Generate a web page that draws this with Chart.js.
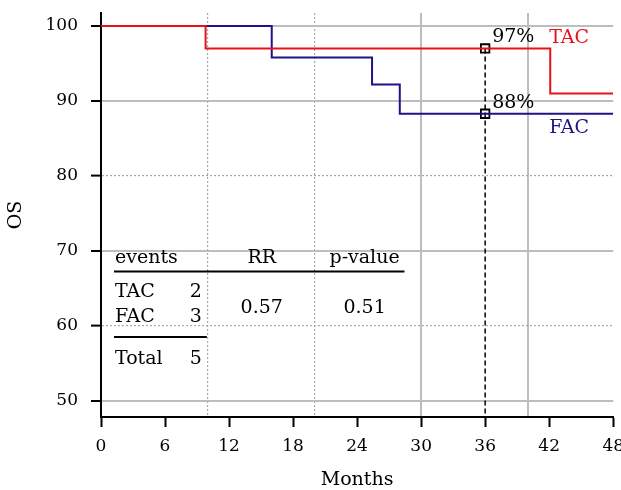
<!DOCTYPE html>
<html>
<head>
<meta charset="utf-8">
<title>OS TAC vs FAC</title>
<script src="https://cdn.jsdelivr.net/npm/chart.js@4.4.0/dist/chart.umd.min.js"></script>
<style>
    html, body { margin: 0; padding: 0; background: #fff; }
    #wrap { width: 621px; height: 490px; }
</style>
</head>
<body>
<div id="wrap"><canvas id="chart" width="621" height="490"></canvas></div>
<script>
// Courbes de survie (paliers KM)
const tacMonths = [0, 9.8, 42.1, 48];
const tacOS = [100, 97, 91, 91];
const facMonths = [0, 16, 25.4, 28, 48];
const facOS = [100, 95.8, 92.2, 88.3, 88.3];

// Point de repère à 36 mois
const landmarkMonth = 36;
const landmarkOS = [97, 88.3];
const landmarkLabels = ['97%', '88%'];

// Axes et grille
const xTicks = [0, 6, 12, 18, 24, 30, 36, 42, 48];
const yTicks = [50, 60, 70, 80, 90, 100];
const gridMonths = [10, 20, 30, 40];
const dottedMonths = [10, 20];
const dottedOS = [60, 80];
const yMin = 47.87;
const yMax = 101.73;

// Tableau des événements
const groups = ['TAC', 'FAC'];
const groupEvents = [2, 3];
const totalEvents = 5;
const rrValue = '0.57';
const pValue = '0.51';

const RED = '#e8101a';
const NAVY = '#1e1488';
const FONT = '"DejaVu Serif", serif';

const toPoints = (xs, ys) => xs.map((m, i) => ({ x: m, y: ys[i] }));

// Texte : labels du repère, noms des séries, tableau
const annotations = {
    id: 'annotations',
    afterDatasetsDraw(chart) {
        const { ctx, scales: { x, y } } = chart;
        ctx.save();
        ctx.font = '19px ' + FONT;
        ctx.textBaseline = 'alphabetic';

        // 97% / 88%
        ctx.fillStyle = '#000';
        ctx.textAlign = 'left';
        landmarkOS.forEach((v, i) => {
            ctx.fillText(landmarkLabels[i], x.getPixelForValue(landmarkMonth) + 7, y.getPixelForValue(v) - 6);
        });

        // TAC / FAC
        ctx.fillStyle = RED;
        ctx.fillText('TAC', x.getPixelForValue(42), y.getPixelForValue(landmarkOS[0]) - 5);
        ctx.fillStyle = NAVY;
        ctx.fillText('FAC', x.getPixelForValue(42), y.getPixelForValue(landmarkOS[1]) + 19);

        // Tableau
        ctx.fillStyle = '#000';
        ctx.strokeStyle = '#000';
        ctx.lineWidth = 2;
        const colLeft = x.getPixelForValue(1.31);
        const colCount = x.getPixelForValue(9.45);
        const colRR = x.getPixelForValue(15.06);
        const colP = x.getPixelForValue(24.7);

        ctx.textAlign = 'left';
        ctx.fillText('events', colLeft, y.getPixelForValue(68.4));
        ctx.textAlign = 'center';
        ctx.fillText('RR', colRR, y.getPixelForValue(68.4));
        ctx.fillText('p-value', colP, y.getPixelForValue(68.4));

        ctx.beginPath();
        ctx.moveTo(x.getPixelForValue(1.22), y.getPixelForValue(67.27));
        ctx.lineTo(x.getPixelForValue(28.44), y.getPixelForValue(67.27));
        ctx.stroke();

        const rowOS = [63.87, 60.53];
        groups.forEach((g, i) => {
            ctx.textAlign = 'left';
            ctx.fillText(g, colLeft, y.getPixelForValue(rowOS[i]));
            ctx.textAlign = 'right';
            ctx.fillText(String(groupEvents[i]), colCount, y.getPixelForValue(rowOS[i]));
        });

        ctx.textAlign = 'center';
        ctx.fillText(rrValue, colRR, y.getPixelForValue(61.73));
        ctx.fillText(pValue, colP, y.getPixelForValue(61.73));

        ctx.beginPath();
        ctx.moveTo(x.getPixelForValue(1.22), y.getPixelForValue(58.53));
        ctx.lineTo(x.getPixelForValue(9.92), y.getPixelForValue(58.53));
        ctx.stroke();

        ctx.textAlign = 'left';
        ctx.fillText('Total', colLeft, y.getPixelForValue(54.93));
        ctx.textAlign = 'right';
        ctx.fillText(String(totalEvents), colCount, y.getPixelForValue(54.93));

        ctx.restore();
    }
};

new Chart(document.getElementById('chart'), {
    type: 'line',
    data: {
        datasets: [{
            label: 'TAC',
            data: toPoints(tacMonths, tacOS),
            stepped: true,
            borderColor: RED,
            borderWidth: 2,
            pointRadius: 0,
            fill: false
        }, {
            label: 'FAC',
            data: toPoints(facMonths, facOS),
            stepped: true,
            borderColor: NAVY,
            borderWidth: 2,
            pointRadius: 0,
            fill: false
        }, {
            label: 'repère',
            data: [{ x: landmarkMonth, y: landmarkOS[0] }, { x: landmarkMonth, y: yMin }],
            borderColor: '#000',
            borderWidth: 1.5,
            borderDash: [5, 3],
            pointRadius: 0,
            fill: false
        }, {
            label: 'points',
            data: landmarkOS.map(v => ({ x: landmarkMonth, y: v })),
            showLine: false,
            pointStyle: 'rect',
            pointRadius: 6,
            pointBorderColor: '#000',
            pointBorderWidth: 1.8,
            pointBackgroundColor: 'rgba(0,0,0,0)'
        }]
    },
    options: {
        responsive: false,
        devicePixelRatio: 1,
        animation: false,
        layout: { padding: { left: 5, top: 13, right: 7, bottom: 0 } },
        plugins: {
            legend: { display: false },
            tooltip: { enabled: false }
        },
        scales: {
            x: {
                type: 'linear',
                position: 'bottom',
                min: 0,
                max: 48,
                afterBuildTicks: s => { s.ticks = xTicks.map(v => ({ value: v })); },
                afterFit: s => { s.height = 73; s.paddingRight = 0; s.paddingLeft = 0; },
                grid: { drawOnChartArea: false, tickColor: '#000', tickWidth: 2, tickLength: 10 },
                border: { color: '#000', width: 2 },
                ticks: { color: '#000', padding: 9, maxRotation: 0, font: { family: FONT, size: 17 } },
                title: { display: true, text: 'Months', color: '#000', padding: { top: 0, bottom: 0 },
                         font: { family: FONT, size: 19, lineHeight: 1 } }
            },
            xg: {
                type: 'linear',
                position: 'top',
                min: 0,
                max: 48,
                afterBuildTicks: s => { s.ticks = gridMonths.map(v => ({ value: v })); },
                afterFit: s => { s.height = 0; s.paddingRight = 0; s.paddingLeft = 0; },
                ticks: { display: false },
                grid: {
                    drawTicks: false,
                    color: ctx => dottedMonths.includes(ctx.tick && ctx.tick.value) ? '#a8a8a8' : '#bdbdbd',
                    lineWidth: ctx => dottedMonths.includes(ctx.tick && ctx.tick.value) ? 1.2 : 2
                },
                border: {
                    display: false,
                    dash: ctx => (ctx.tick && dottedMonths.includes(ctx.tick.value)) ? [2, 2] : []
                }
            },
            y: {
                type: 'linear',
                min: yMin,
                max: yMax,
                afterBuildTicks: s => { s.ticks = yTicks.map(v => ({ value: v })); },
                afterFit: s => { s.width = 96; s.paddingTop = 0; s.paddingBottom = 0; },
                grid: {
                    tickColor: '#000',
                    tickWidth: 2,
                    tickLength: 10,
                    color: ctx => dottedOS.includes(ctx.tick && ctx.tick.value) ? '#a8a8a8' : '#bdbdbd',
                    lineWidth: ctx => dottedOS.includes(ctx.tick && ctx.tick.value) ? 1.2 : 2
                },
                border: {
                    color: '#000',
                    width: 2,
                    dash: ctx => (ctx.tick && dottedOS.includes(ctx.tick.value)) ? [2, 2] : []
                },
                ticks: { color: '#000', padding: 13, font: { family: FONT, size: 17 } },
                title: { display: true, text: 'OS', color: '#000', padding: { top: 0, bottom: 0 },
                         font: { family: FONT, size: 19 } }
            }
        }
    },
    plugins: [annotations]
});
</script>
</body>
</html>
